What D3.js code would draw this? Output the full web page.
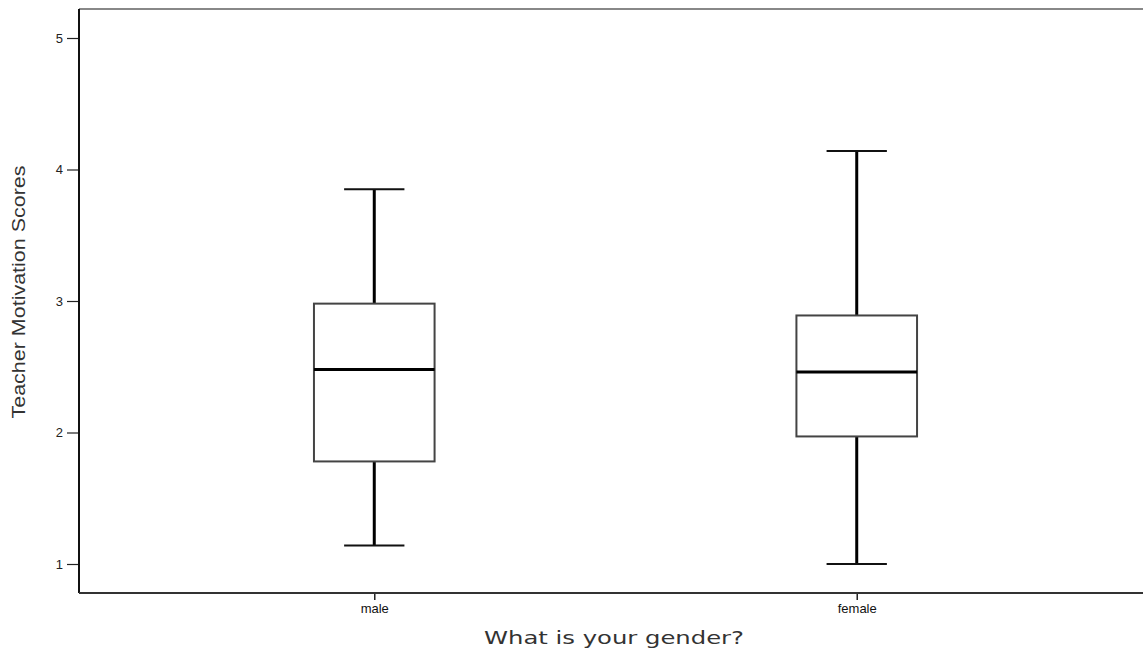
<!DOCTYPE html>
<html>
<head>
<meta charset="utf-8">
<script src="https://cdn.jsdelivr.net/npm/d3@7"></script>
<style>
  body { margin: 0; background: #fff; overflow: hidden; }
  svg { display: block; }
</style>
</head>
<body>
<svg width="1143" height="653"></svg>
<script>
// box stats
var groups = ["male", "female"];
var lowWhisker = [1.14, 1.0];
var q1 = [1.78, 1.97];
var median = [2.48, 2.46];
var q3 = [2.98, 2.89];
var highWhisker = [3.85, 4.14];
var yTicks = [1, 2, 3, 4, 5];

var svg = d3.select("svg");
var plotLeft = 79, plotTop = 9, plotBottom = 593, plotRight = 1152;

var x = d3.scalePoint()
	.domain(groups)
	.range([plotLeft, plotRight])
	.padding(0.612);

var y = d3.scaleLinear()
	.domain([1, 5])
	.range([564, 38]);

var step = x.step(),
	boxW = step * 0.25,
	capW = step * 0.125;

// frame
svg.append("line")
	.attr("x1", plotLeft).attr("x2", 1143)
	.attr("y1", plotTop).attr("y2", plotTop)
	.attr("stroke", "#888").attr("stroke-width", 2);

// y axis
var yAxis = svg.append("g")
	.attr("transform", "translate(" + plotLeft + ",0)")
	.call(d3.axisLeft(y).tickValues(yTicks).tickSize(12).tickPadding(4).tickFormat(d3.format("d")));
yAxis.select(".domain").remove();
yAxis.selectAll(".tick line").attr("stroke", "#222").attr("stroke-width", 1.2);
yAxis.selectAll(".tick text")
	.attr("font-family", "Liberation Sans, Arial, sans-serif")
	.attr("font-size", 13).attr("fill", "#222");
svg.append("line")
	.attr("x1", plotLeft).attr("x2", plotLeft)
	.attr("y1", plotTop).attr("y2", plotBottom)
	.attr("stroke", "#111").attr("stroke-width", 2);

// x axis
var xAxis = svg.append("g")
	.attr("transform", "translate(0," + plotBottom + ")")
	.call(d3.axisBottom(x).tickSize(7).tickPadding(4));
xAxis.select(".domain").remove();
xAxis.selectAll(".tick line").attr("stroke", "#222").attr("stroke-width", 1.5);
xAxis.selectAll(".tick text")
	.attr("font-family", "Liberation Sans, Arial, sans-serif")
	.attr("font-size", 13).attr("fill", "#111");
svg.append("line")
	.attr("x1", plotLeft).attr("x2", 1143)
	.attr("y1", plotBottom).attr("y2", plotBottom)
	.attr("stroke", "#333").attr("stroke-width", 2);

// boxes
var box = svg.selectAll("g.box")
	.data(groups)
	.enter().append("g")
	.attr("class", "box");

box.append("line")
	.attr("x1", function(d) { return x(d); })
	.attr("x2", function(d) { return x(d); })
	.attr("y1", function(d, i) { return y(highWhisker[i]); })
	.attr("y2", function(d, i) { return y(q3[i]); })
	.attr("stroke", "#000").attr("stroke-width", 3);

box.append("line")
	.attr("x1", function(d) { return x(d); })
	.attr("x2", function(d) { return x(d); })
	.attr("y1", function(d, i) { return y(q1[i]); })
	.attr("y2", function(d, i) { return y(lowWhisker[i]); })
	.attr("stroke", "#000").attr("stroke-width", 3);

box.append("line")
	.attr("x1", function(d) { return x(d) - capW / 2; })
	.attr("x2", function(d) { return x(d) + capW / 2; })
	.attr("y1", function(d, i) { return y(highWhisker[i]); })
	.attr("y2", function(d, i) { return y(highWhisker[i]); })
	.attr("stroke", "#111").attr("stroke-width", 2);

box.append("line")
	.attr("x1", function(d) { return x(d) - capW / 2; })
	.attr("x2", function(d) { return x(d) + capW / 2; })
	.attr("y1", function(d, i) { return y(lowWhisker[i]); })
	.attr("y2", function(d, i) { return y(lowWhisker[i]); })
	.attr("stroke", "#111").attr("stroke-width", 2);

box.append("rect")
	.attr("x", function(d) { return x(d) - boxW / 2; })
	.attr("y", function(d, i) { return y(q3[i]); })
	.attr("width", boxW)
	.attr("height", function(d, i) { return y(q1[i]) - y(q3[i]); })
	.attr("fill", "#fff")
	.attr("stroke", "#444").attr("stroke-width", 2);

box.append("line")
	.attr("x1", function(d) { return x(d) - boxW / 2; })
	.attr("x2", function(d) { return x(d) + boxW / 2; })
	.attr("y1", function(d, i) { return y(median[i]); })
	.attr("y2", function(d, i) { return y(median[i]); })
	.attr("stroke", "#000").attr("stroke-width", 3);

// axis titles
svg.append("text")
	.attr("transform", "translate(25,292) rotate(-90)")
	.attr("text-anchor", "middle")
	.attr("font-family", "Liberation Sans, Arial, sans-serif")
	.attr("font-size", 18)
	.attr("fill", "#333")
	.attr("textLength", 253)
	.attr("lengthAdjust", "spacingAndGlyphs")
	.text("Teacher Motivation Scores");

svg.append("text")
	.attr("x", 614).attr("y", 644)
	.attr("text-anchor", "middle")
	.attr("font-family", "DejaVu Sans, Verdana, sans-serif")
	.attr("font-size", 17)
	.attr("fill", "#333")
	.attr("textLength", 260)
	.attr("lengthAdjust", "spacingAndGlyphs")
	.text("What is your gender?");
</script>
</body>
</html>
